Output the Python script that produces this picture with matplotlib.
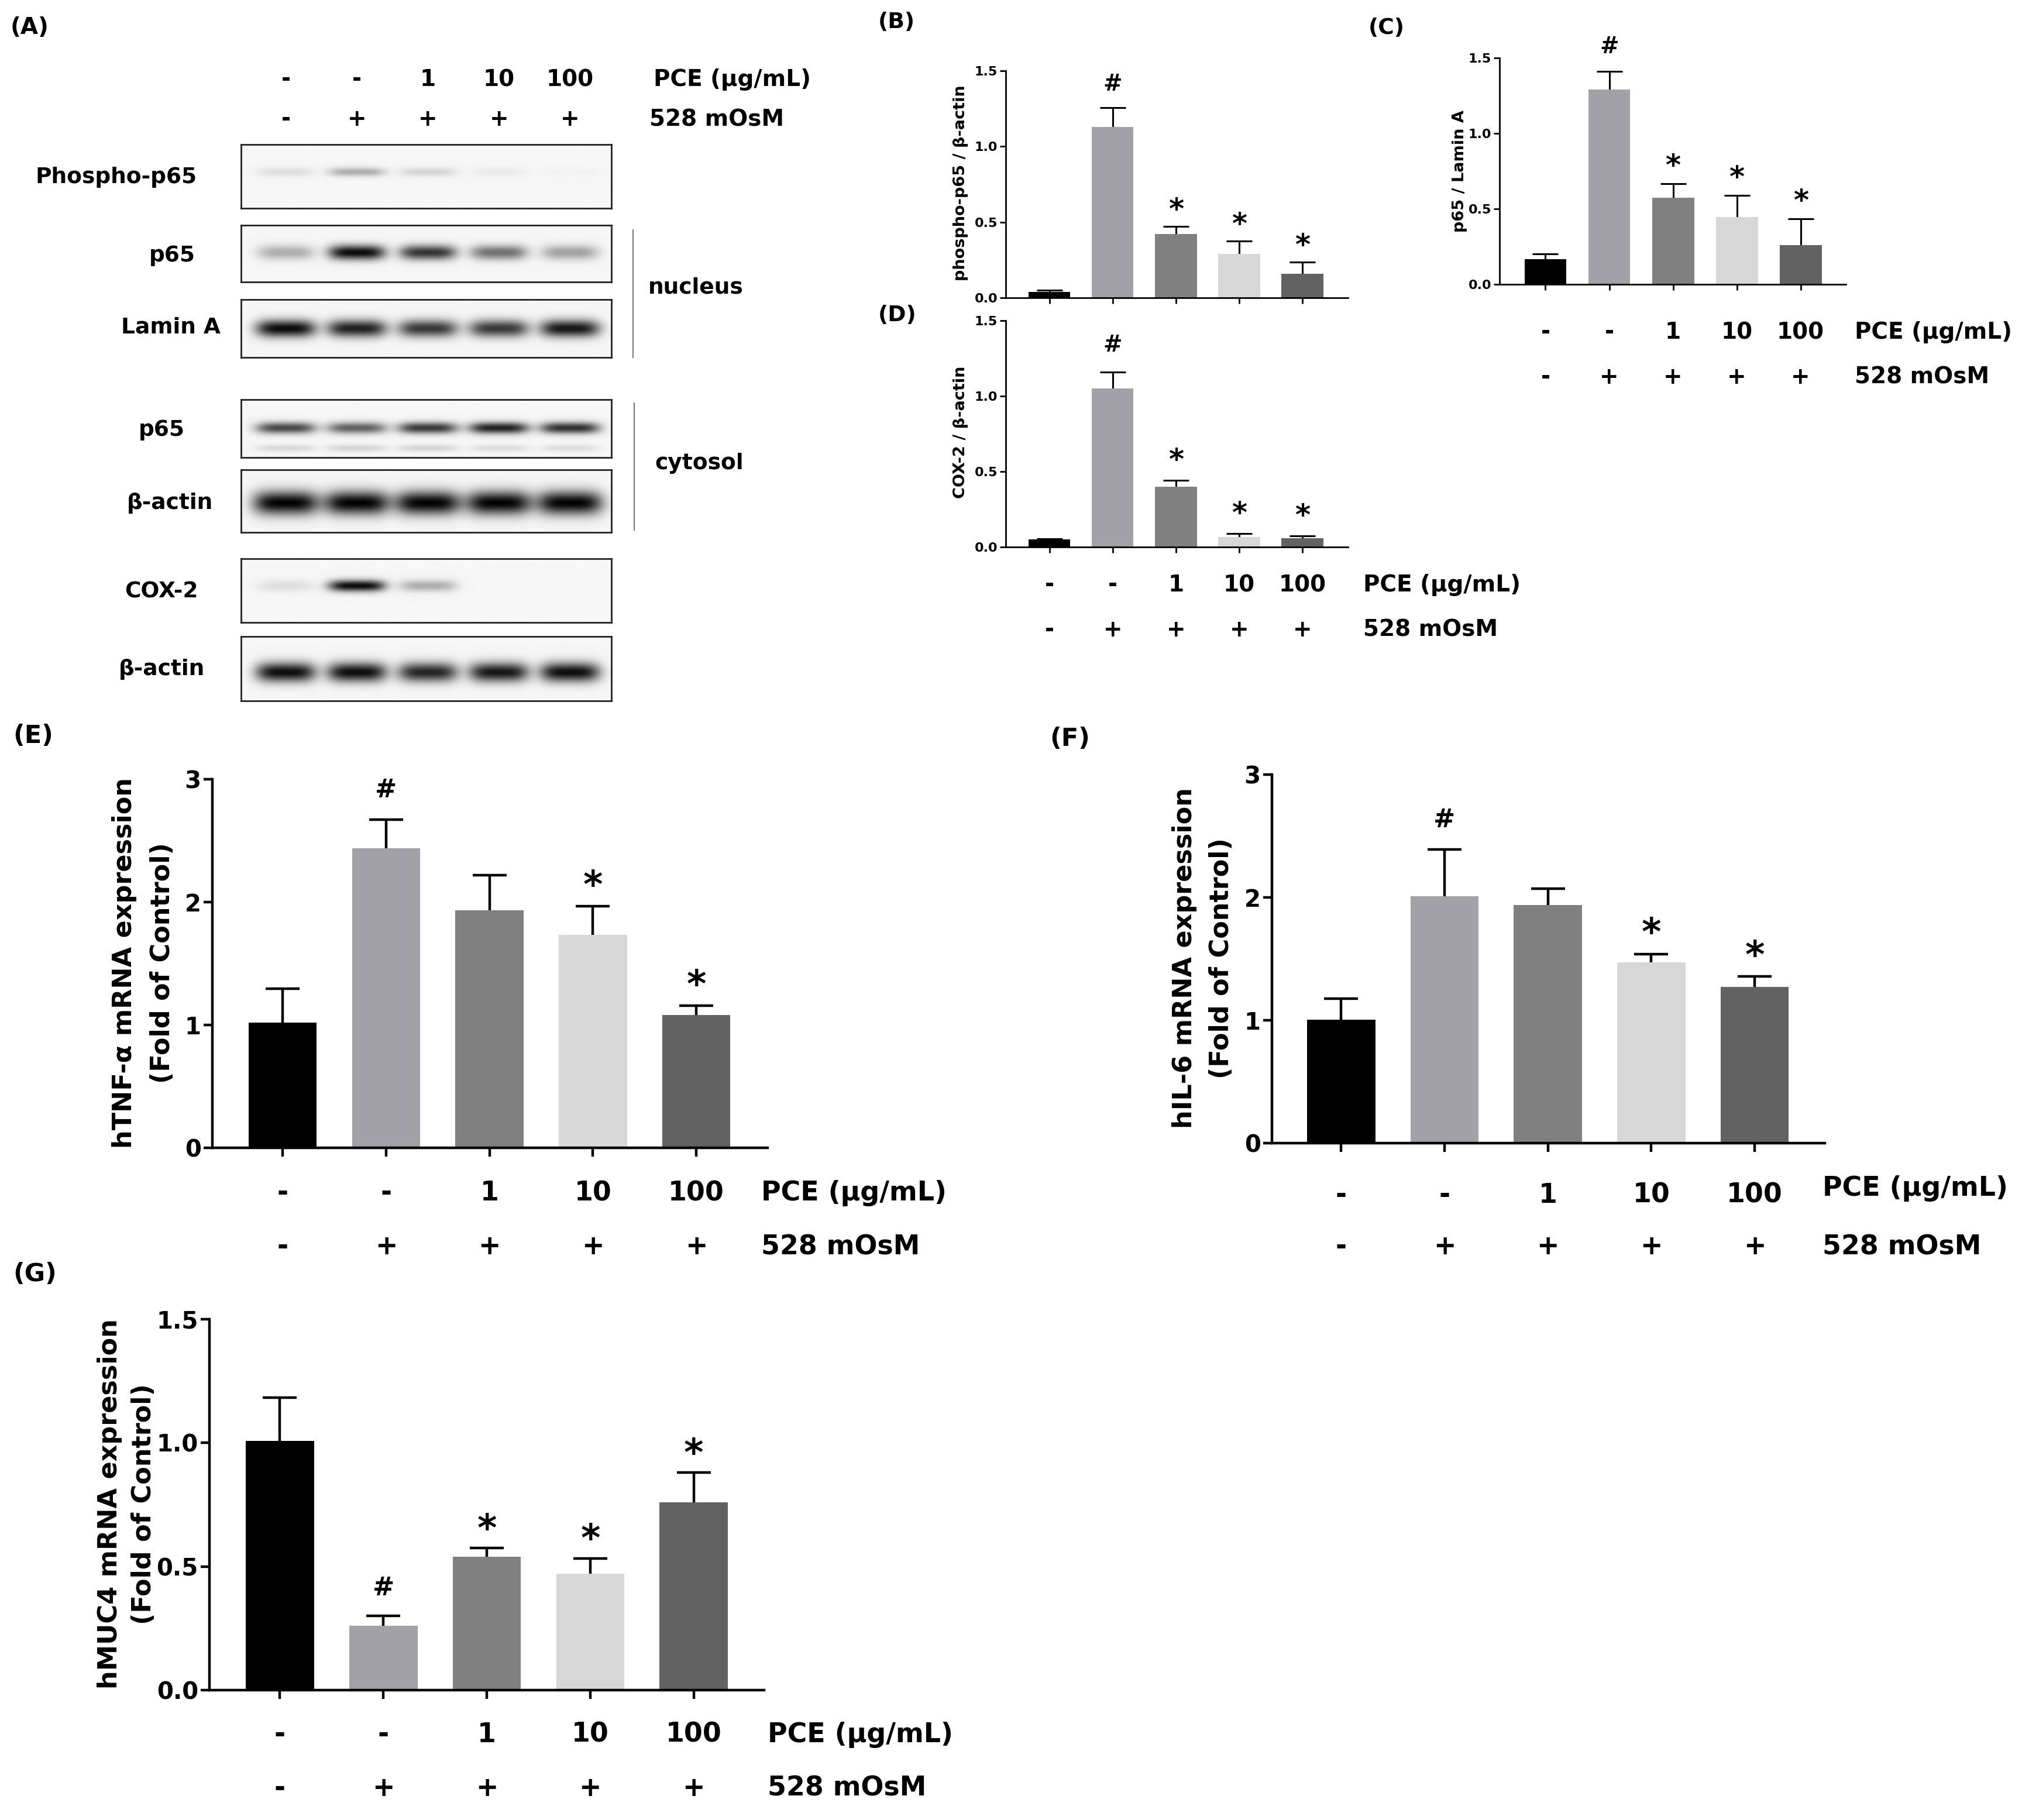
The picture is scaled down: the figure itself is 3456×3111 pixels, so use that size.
import numpy as np
import matplotlib
matplotlib.use("Agg")
import matplotlib.pyplot as plt
from matplotlib.transforms import blended_transform_factory

plt.rcParams['font.family'] = ['DejaVu Sans']
plt.rcParams['font.weight'] = 'bold'

# ---------------- data ----------------
pce_labels = ['-', '-', '1', '10', '100']
osm_labels = ['-', '+', '+', '+', '+']
bar_colors = ['#000000', '#a2a1a7', '#808080', '#d7d7d7', '#626262']

B_vals = [0.04, 1.13, 0.42, 0.29, 0.16]
B_err = [0.01, 0.125, 0.05, 0.085, 0.075]
B_sig = ['', '#', '*', '*', '*']

C_vals = [0.165, 1.29, 0.575, 0.445, 0.26]
C_err = [0.035, 0.12, 0.09, 0.145, 0.175]
C_sig = ['', '#', '*', '*', '*']

D_vals = [0.05, 1.05, 0.40, 0.065, 0.057]
D_err = [0.006, 0.11, 0.04, 0.025, 0.018]
D_sig = ['', '#', '*', '*', '*']

E_vals = [1.02, 2.44, 1.935, 1.735, 1.08]
E_err = [0.275, 0.23, 0.285, 0.23, 0.075]
E_sig = ['', '#', '', '*', '*']

F_vals = [1.005, 2.01, 1.94, 1.47, 1.27]
F_err = [0.17, 0.38, 0.13, 0.07, 0.085]
F_sig = ['', '#', '', '*', '*']

G_vals = [1.008, 0.26, 0.54, 0.47, 0.76]
G_err = [0.175, 0.04, 0.035, 0.063, 0.12]
G_sig = ['', '#', '*', '*', '*']

# western blot band intensities (0 = none, 1 = saturated)
blot_names = ['Phospho-p65', 'p65', 'Lamin A', 'p65', 'β-actin', 'COX-2', 'β-actin']
blot_bands = [
    [0.10, 0.30, 0.14, 0.05, 0.02],
    [0.30, 0.97, 0.80, 0.55, 0.35],
    [0.97, 0.88, 0.78, 0.78, 0.92],
    [0.72, 0.62, 0.78, 0.88, 0.82],
    [1.00, 1.00, 1.00, 1.00, 1.00],
    [0.10, 0.97, 0.30, 0.00, 0.00],
    [0.96, 0.96, 0.86, 0.92, 0.96],
]
blot_minor = [None, None, None, [0.12, 0.14, 0.14, 0.10, 0.10], None, None, None]

# ---------------- figure ----------------
W, H = 3456, 3111
fig = plt.figure(figsize=(W / 100, H / 100), dpi=100)
fig.patch.set_facecolor('white')


def fx(x):
    return x / W


def fy(y):
    return 1 - y / H


def bar_panel(left, right, y0, ytop, xlim, ymax, yticks, yfmt, vals, err, sig,
              lw, ticklen, tickfs, capsize, elw, sigfs_hash, sigfs_star, gap_px,
              ylabel_lines, ylabel_pos, ylabel_fs, cat_rows=None, cat_fs=None,
              row_label_x=None, pce_row_y=None):
    ax = fig.add_axes([fx(left), fy(y0), (right - left) / W, (y0 - ytop) / H])
    x = np.arange(len(vals))
    ax.bar(x, vals, width=0.66, color=bar_colors, zorder=2)
    cont = ax.errorbar(x, vals, yerr=[np.zeros(len(vals)), err], fmt='none', ecolor='black',
                       elinewidth=elw, capsize=capsize, capthick=elw, zorder=1)
    # keep only the upper caps
    for cl in cont[1]:
        yd = np.asarray(cl.get_ydata(), dtype=float)
        if np.allclose(yd, np.asarray(vals, dtype=float)):
            cl.set_visible(False)
    ax.set_xlim(*xlim)
    ax.set_ylim(0, ymax)
    for s in ['top', 'right']:
        ax.spines[s].set_visible(False)
    for s in ['left', 'bottom']:
        ax.spines[s].set_linewidth(lw)
        ax.spines[s].set_zorder(4)
    ax.set_xticks(x)
    ax.set_xticklabels([])
    ax.set_yticks(yticks)
    ax.set_yticklabels([yfmt.format(t) for t in yticks], fontsize=tickfs, fontweight='bold')
    ax.tick_params(axis='both', direction='out', length=ticklen, width=lw, pad=3)
    for xi, v, e, s in zip(x, vals, err, sig):
        if not s:
            continue
        fs = sigfs_hash if s == '#' else sigfs_star
        corr = -0.10 * fs if s == '#' else -0.34 * fs
        ax.annotate(s, xy=(xi, v + e), xytext=(0, gap_px * 0.72 + corr),
                    textcoords='offset points', ha='center', va='center',
                    fontsize=fs, fontweight='bold', annotation_clip=False)
    for (lx, ly), line in zip(ylabel_pos, ylabel_lines):
        fig.text(fx(lx), fy(ly), line, rotation=90, ha='center', va='center',
                 fontsize=ylabel_fs, fontweight='bold')
    if cat_rows is not None:
        tr = blended_transform_factory(ax.transData, fig.transFigure)
        for xi, a, b in zip(x, pce_labels, osm_labels):
            ax.text(xi, fy(cat_rows[0]), a, transform=tr, ha='center', va='center',
                    fontsize=cat_fs, fontweight='bold')
            ax.text(xi, fy(cat_rows[1]), b, transform=tr, ha='center', va='center',
                    fontsize=cat_fs, fontweight='bold')
        py = pce_row_y if pce_row_y is not None else cat_rows[0]
        fig.text(fx(row_label_x), fy(py), 'PCE (µg/mL)', ha='left', va='center',
                 fontsize=cat_fs, fontweight='bold')
        fig.text(fx(row_label_x), fy(cat_rows[1]), '528 mOsM', ha='left', va='center',
                 fontsize=cat_fs, fontweight='bold')
    return ax


# ---------------- panel A: western blots ----------------
strip_px = [(247, 356), (385, 482), (512, 611), (683, 782), (803, 910), (955, 1064), (1088, 1198)]
band_y = [0.43, 0.48, 0.50, 0.49, 0.53, 0.43, 0.56]
band_h = [0.07, 0.13, 0.15, 0.10, 0.19, 0.09, 0.15]
band_w = [0.40, 0.40, 0.42, 0.42, 0.46, 0.40, 0.42]
label_px = [(199, 303), (294, 437), (292, 560), (276, 735), (290, 860), (276, 1011), (276, 1144)]
bl_left, bl_right = 412, 1045
lane_xlim = (-0.63, 4.58)

blot_axes = []
for k, (top, bot) in enumerate(strip_px):
    ax = fig.add_axes([fx(bl_left), fy(bot), (bl_right - bl_left) / W, (bot - top) / H])
    xs = np.linspace(lane_xlim[0], lane_xlim[1], 700)
    ys = np.linspace(0, 1, 160)
    X, Y = np.meshgrid(xs, ys)
    dark = np.zeros_like(X)
    for i, inten in enumerate(blot_bands[k]):
        dark += inten * np.exp(-np.abs((X - i) / band_w[k]) ** 4) * \
            np.exp(-((Y - band_y[k]) / band_h[k]) ** 2)
    if blot_minor[k] is not None:
        for i, inten in enumerate(blot_minor[k]):
            dark += inten * np.exp(-np.abs((X - i) / band_w[k]) ** 4) * \
                np.exp(-((Y - 0.84) / 0.06) ** 2)
    dark = np.clip(dark, 0, 1)
    img = 0.965 - 0.95 * dark
    ax.imshow(img, cmap='gray', vmin=0, vmax=1, aspect='auto', interpolation='bilinear',
              extent=(lane_xlim[0], lane_xlim[1], 1, 0))
    ax.set_xlim(*lane_xlim)
    ax.set_ylim(1, 0)
    ax.set_xticks([])
    ax.set_yticks([])
    for s in ax.spines.values():
        s.set_linewidth(2.0)
        s.set_color('#222222')
    lx, ly = label_px[k]
    fig.text(fx(lx), fy(ly), blot_names[k], ha='center', va='center', fontsize=27,
             fontweight='bold')
    blot_axes.append(ax)

# header of panel A
trA = blended_transform_factory(blot_axes[0].transData, fig.transFigure)
for i, (a, b) in enumerate(zip(pce_labels, osm_labels)):
    blot_axes[0].text(i, fy(136), a, transform=trA, ha='center', va='center', fontsize=28,
                      fontweight='bold')
    blot_axes[0].text(i, fy(204), b, transform=trA, ha='center', va='center', fontsize=28,
                      fontweight='bold')
fig.text(fx(1117), fy(136), 'PCE (µg/mL)', ha='left', va='center', fontsize=28, fontweight='bold')
fig.text(fx(1110), fy(204), '528 mOsM', ha='left', va='center', fontsize=28, fontweight='bold')

# compartment brackets
fig.add_artist(plt.Line2D([fx(1082), fx(1082)], [fy(393), fy(611)], color='#777777', lw=1.5))
fig.add_artist(plt.Line2D([fx(1084), fx(1084)], [fy(689), fy(906)], color='#777777', lw=1.5))
fig.text(fx(1108), fy(492), 'nucleus', ha='left', va='center', fontsize=27, fontweight='bold')
fig.text(fx(1119), fy(792), 'cytosol', ha='left', va='center', fontsize=27, fontweight='bold')

# ---------------- panels B, C, D ----------------
small_ticks = [0.0, 0.5, 1.0, 1.5]
bar_panel(1719, 2304, 509, 121, (-0.69, 4.72), 1.5, small_ticks, '{:.1f}', B_vals, B_err, B_sig,
          lw=2.0, ticklen=7, tickfs=16, capsize=16, elw=2.2, sigfs_hash=28, sigfs_star=36,
          gap_px=44, ylabel_lines=['phospho-p65 / β-actin'], ylabel_pos=[(1642, 313)],
          ylabel_fs=19.5)

bar_panel(2563, 3155, 486, 99, (-0.72, 4.71), 1.5, small_ticks, '{:.1f}', C_vals, C_err, C_sig,
          lw=2.0, ticklen=7, tickfs=16, capsize=16, elw=2.2, sigfs_hash=28, sigfs_star=36,
          gap_px=46, ylabel_lines=['p65 / Lamin A'], ylabel_pos=[(2495, 293)],
          ylabel_fs=19.5, cat_rows=(568, 645), cat_fs=28, row_label_x=3170)

bar_panel(1719, 2304, 935, 548, (-0.69, 4.72), 1.5, small_ticks, '{:.1f}', D_vals, D_err, D_sig,
          lw=2.0, ticklen=7, tickfs=16, capsize=16, elw=2.2, sigfs_hash=28, sigfs_star=36,
          gap_px=50, ylabel_lines=['COX-2 / β-actin'], ylabel_pos=[(1642, 739)],
          ylabel_fs=19.5, cat_rows=(1000, 1077), cat_fs=28, row_label_x=2330)

# ---------------- panels E, F, G ----------------
bar_panel(363, 1312, 1962, 1332, (-0.68, 4.69), 3, [0, 1, 2, 3], '{:d}', E_vals, E_err, E_sig,
          lw=3.2, ticklen=10.8, tickfs=29, capsize=21, elw=3.2, sigfs_hash=32, sigfs_star=46,
          gap_px=55, ylabel_lines=['hTNF-α mRNA expression', '(Fold of Control)'],
          ylabel_pos=[(213, 1646), (278, 1646)], ylabel_fs=32,
          cat_rows=(2040, 2132), cat_fs=33, row_label_x=1301)

bar_panel(2174, 3119, 1954, 1324, (-0.67, 4.68), 3, [0, 1, 2, 3], '{:d}', F_vals, F_err, F_sig,
          lw=3.2, ticklen=10.8, tickfs=29, capsize=21, elw=3.2, sigfs_hash=32, sigfs_star=46,
          gap_px=55, ylabel_lines=['hIL-6 mRNA expression', '(Fold of Control)'],
          ylabel_pos=[(2025, 1638), (2088, 1638)], ylabel_fs=32,
          cat_rows=(2043, 2132), cat_fs=33, row_label_x=3115, pce_row_y=2031)

bar_panel(358, 1306, 2889, 2255, (-0.68, 4.68), 1.5, small_ticks, '{:.1f}', G_vals, G_err, G_sig,
          lw=3.2, ticklen=10.8, tickfs=29, capsize=21, elw=3.2, sigfs_hash=32, sigfs_star=46,
          gap_px=52, ylabel_lines=['hMUC4 mRNA expression', '(Fold of Control)'],
          ylabel_pos=[(188, 2571), (246, 2571)], ylabel_fs=32,
          cat_rows=(2965, 3057), cat_fs=33, row_label_x=1312)

# ---------------- panel letters ----------------
for txt, x, y, fs in [('(A)', 18, 47, 28), ('(B)', 1501, 38, 27), ('(C)', 2339, 48, 27),
                      ('(D)', 1501, 539, 27), ('(E)', 22, 1258, 31), ('(F)', 1794, 1263, 31),
                      ('(G)', 22, 2178, 31)]:
    fig.text(fx(x), fy(y), txt, ha='left', va='center', fontsize=fs, fontweight='bold')

fig.savefig('out.png', dpi=100, facecolor='white')
